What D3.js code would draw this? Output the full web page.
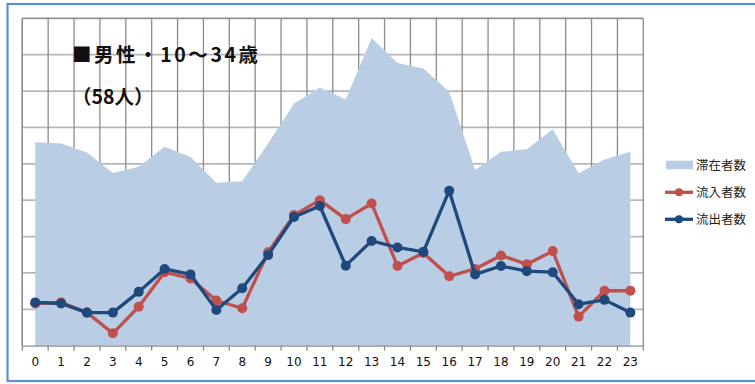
<!DOCTYPE html>
<html><head><meta charset="utf-8">
<script src="https://cdn.jsdelivr.net/npm/d3@7"></script>
<style>html,body{margin:0;padding:0;background:#fff;}svg{display:block;}</style>
</head><body>
<svg id="chart" width="755" height="384"></svg>
<script>
const hours = d3.range(0, 24).map(String);
const stay = [55.9,55.6,53.1,47.5,49.2,54.7,51.9,44.8,45.2,55.6,66.6,71.0,67.7,84.6,77.7,76.2,69.8,48.3,53.3,54.0,59.5,47.4,51.2,53.3];
const inflow = [11.6,11.9,9.1,3.4,10.7,20.2,18.5,12.4,10.3,25.7,35.9,40.0,34.8,39.1,21.9,25.5,19.1,21.1,24.8,22.4,26.0,8.0,15.1,15.1];
const outflow = [11.9,11.6,9.1,9.1,14.8,21.1,19.6,9.8,15.8,24.9,35.4,38.4,22.0,28.8,27.0,25.8,42.6,19.6,21.9,20.5,20.2,11.4,12.6,9.1];
const yTicks = d3.range(0, 100, 10);
const seriesNames = ["滞在者数","流入者数","流出者数"];
const titleLines = ["■男性・10～34歳","（58人）"];

const svg = d3.select("#chart");
const L = 22.3, R = 643.3, T = 18.3, B = 345.7;
const x = d3.scaleBand().domain(hours).range([L, R]).padding(0);
const y = d3.scaleLinear().domain([0, 90]).range([B, T]);
const cx = d => x(d) + x.bandwidth()/2;

// outer border
svg.append("rect").attr("x", 7.5).attr("y", 4).attr("width", 760).attr("height", 377)
  .attr("fill", "none").attr("stroke", "#5b8fd8").attr("stroke-width", 2.2);

// horizontal gridlines
svg.append("g").selectAll("line").data(yTicks.slice(1)).join("line")
  .attr("x1", L).attr("x2", R).attr("y1", d => y(d)).attr("y2", d => y(d))
  .attr("stroke", "#b7b7b7").attr("stroke-width", 1.8);
// vertical gridlines
const bounds = hours.map(h => x(h)).concat([R]);
svg.append("g").selectAll("line").data(bounds).join("line")
  .attr("x1", d => d).attr("x2", d => d).attr("y1", T).attr("y2", B)
  .attr("stroke", "#8c8c8c").attr("stroke-width", 1.3);
// top border
svg.append("line").attr("x1", L).attr("x2", R).attr("y1", T).attr("y2", T)
  .attr("stroke", "#8c8c8c").attr("stroke-width", 1.3);

// area
const area = d3.area().x((d, i) => cx(hours[i])).y0(B).y1(d => y(d));
svg.append("path").datum(stay).attr("d", area).attr("fill", "#b9cde5");

// y axis line
svg.append("line").attr("x1", L).attr("x2", L).attr("y1", T).attr("y2", B)
  .attr("stroke", "#8c8c8c").attr("stroke-width", 1.3);

// x axis
const xAxis = d3.axisBottom(x).tickSize(0).tickPadding(12);
const gx = svg.append("g").attr("transform", `translate(0,${B})`).call(xAxis);
gx.select(".domain").attr("stroke", "#8c8c8c").attr("stroke-width", 1.3);
gx.selectAll("text").attr("font-family", "DejaVu Sans, Verdana, sans-serif").attr("font-size", 12).attr("fill", "#111");
svg.append("g").selectAll("line").data(bounds).join("line")
  .attr("x1", d => d).attr("x2", d => d).attr("y1", B).attr("y2", B + 5)
  .attr("stroke", "#8c8c8c").attr("stroke-width", 1.3);

// lines
const line = d3.line().x((d, i) => cx(hours[i])).y(d => y(d));
function drawSeries(data, color) {
  svg.append("path").datum(data).attr("d", line).attr("fill", "none")
    .attr("stroke", color).attr("stroke-width", 3.3).attr("stroke-linejoin", "round");
  svg.append("g").selectAll("circle").data(data).join("circle")
    .attr("cx", (d, i) => cx(hours[i])).attr("cy", d => y(d)).attr("r", 5).attr("fill", color);
}
drawSeries(inflow, "#c0504d");
drawSeries(outflow, "#1f497d");

// title
svg.append("text").attr("x", 72).attr("y", 62).text(titleLines[0])
  .attr("textLength", 186).attr("lengthAdjust", "spacing")
  .attr("font-family", "Noto Sans CJK JP").attr("font-weight", "bold").attr("font-size", 19.5).attr("fill", "#111");
svg.append("text").attr("x", 72).attr("y", 104).text(titleLines[1])
  .attr("font-family", "Noto Sans CJK JP").attr("font-weight", "bold").attr("font-size", 19.5).attr("fill", "#111");

// legend
const lg = svg.append("g").attr("font-family", "Noto Sans CJK JP").attr("font-size", 12.5).attr("fill", "#222");
lg.append("rect").attr("x", 666).attr("y", 160.7).attr("width", 27).attr("height", 8.6).attr("fill", "#b9cde5");
lg.append("text").attr("x", 696).attr("y", 165).attr("dy", "0.36em").text(seriesNames[0]);
[[seriesNames[1], "#c0504d", 192.3], [seriesNames[2], "#1f497d", 219.3]].forEach(([name, c, yy]) => {
  lg.append("line").attr("x1", 665).attr("x2", 693).attr("y1", yy).attr("y2", yy).attr("stroke", c).attr("stroke-width", 3.3);
  lg.append("circle").attr("cx", 679).attr("cy", yy).attr("r", 4).attr("fill", c);
  lg.append("text").attr("x", 696).attr("y", yy).attr("dy", "0.36em").text(name);
});
</script>
</body></html>
